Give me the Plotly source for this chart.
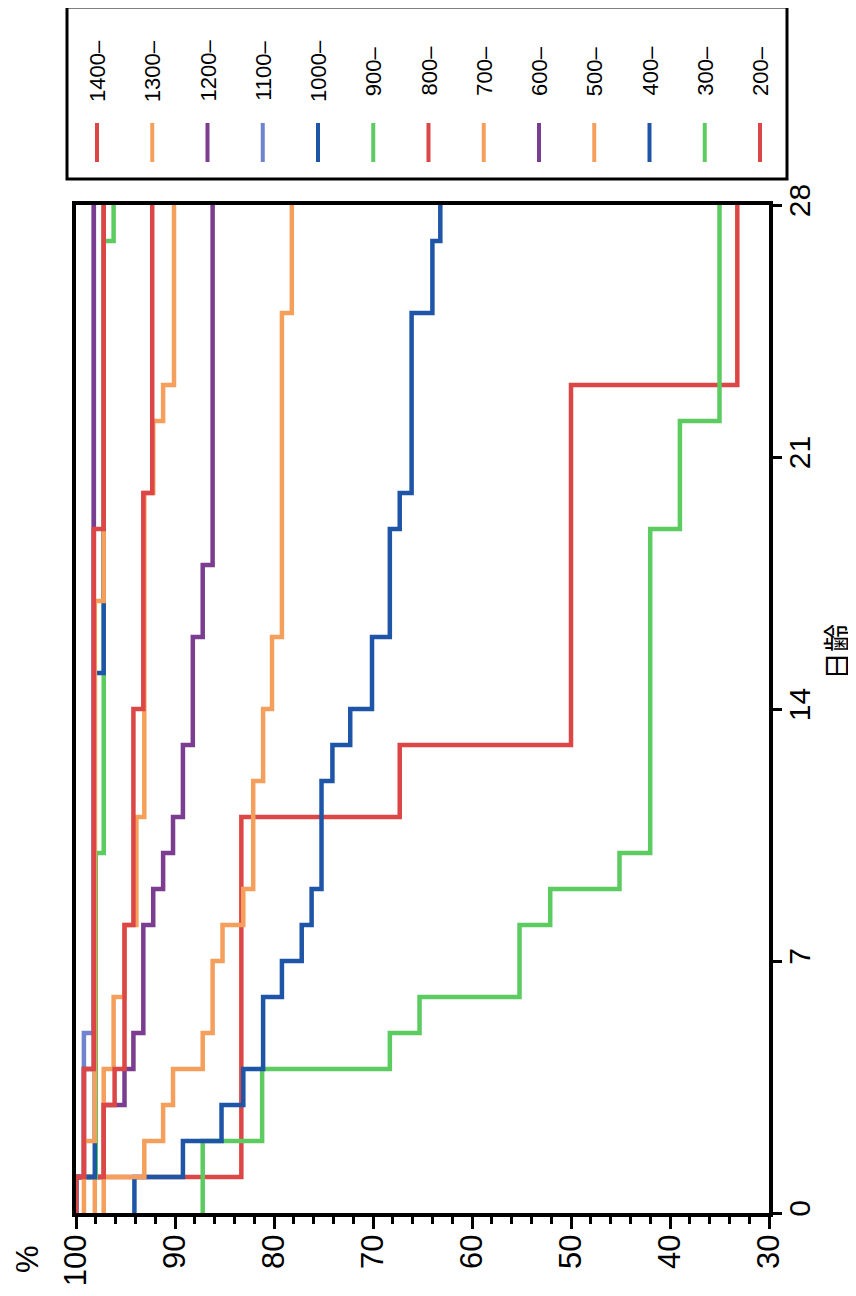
import plotly.graph_objects as go

# ---------------- data (step start day, survival %) ----------------
days_200 = [0, 1, 11, 13, 23]
pct_200 = [100, 83.3, 67.3, 50.0, 33.2]

days_300 = [0, 2, 4, 5, 6, 8, 9, 10, 19, 22]
pct_300 = [87.2, 81.2, 68.3, 65.3, 55.2, 52.1, 45.1, 42.0, 39.0, 35.0]

days_400 = [0, 1, 2, 3, 4, 6, 7, 8, 9, 12, 13, 14, 16, 19, 20, 25, 27]
pct_400 = [94.1, 89.2, 85.3, 83.1, 81.1, 79.2, 77.2, 76.2, 75.2, 74.1, 72.3, 70.1, 68.3, 67.3, 66.1, 64.0, 63.2]

days_500 = [0, 1, 2, 3, 4, 5, 7, 8, 9, 12, 14, 16, 25]
pct_500 = [98.1, 93.1, 91.2, 90.2, 87.2, 86.2, 85.2, 83.1, 82.1, 81.1, 80.2, 79.2, 78.2]

days_600 = [0, 1, 3, 4, 5, 8, 9, 10, 11, 13, 16, 18]
pct_600 = [100, 97.2, 95.1, 94.2, 93.2, 92.2, 91.2, 90.2, 89.2, 88.2, 87.2, 86.2]

days_700 = [0, 4, 6, 8, 11, 20, 22, 23]
pct_700 = [97.2, 96.2, 95.1, 93.9, 93.1, 92.2, 91.2, 90.1]

days_800 = [0, 1, 3, 4, 8, 14, 20]
pct_800 = [100, 97.2, 96.1, 95.1, 94.2, 93.2, 92.3]

days_900 = [0, 1, 10, 27]
pct_900 = [100, 98.0, 97.2, 96.2]

days_1000 = [0, 1, 15]
pct_1000 = [100, 98.1, 97.2]

days_1100 = [0, 1, 5]
pct_1100 = [100, 99.2, 98.2]

days_1200 = [0, 1, 4]
pct_1200 = [100, 99.2, 98.2]

days_1300 = [0, 2, 17]
pct_1300 = [99.2, 98.1, 97.2]

days_1400 = [0, 1, 4, 19]
pct_1400 = [100, 99.2, 98.2, 97.2]

END_DAY = 28
pct_ticks = [100, 90, 80, 70, 60, 50, 40, 30]
day_ticks = [0, 7, 14, 21, 28]

group_labels = ["200–", "300–", "400–", "500–", "600–", "700–", "800–",
                "900–", "1000–", "1100–", "1200–", "1300–", "1400–"]

RED = "#dd4646"
ORANGE = "#f4a05c"
PURPLE = "#7a3d90"
LBLUE = "#6f83cf"
BLUE = "#1f55a6"
GREEN = "#5ccb60"
group_colors = [RED, GREEN, BLUE, ORANGE, PURPLE, ORANGE, RED,
                GREEN, BLUE, LBLUE, PURPLE, ORANGE, RED]

series_days = [days_200, days_300, days_400, days_500, days_600, days_700, days_800,
               days_900, days_1000, days_1100, days_1200, days_1300, days_1400]
series_pct = [pct_200, pct_300, pct_400, pct_500, pct_600, pct_700, pct_800,
              pct_900, pct_1000, pct_1100, pct_1200, pct_1300, pct_1400]

# ---------------- geometry helpers (layout only) ----------------
OFF = 8                      # page body margin in the browser
W, H = 856 - OFF, 1296 - OFF
L, R, T, B = 76 - OFF, 87, 205 - OFF, 83
PW, PH = W - L - R, H - T - B


def px_x(x):
    return (x - OFF - L) / PW


def px_y(y):
    return (H - B - (y - OFF)) / PH


FONT = "Liberation Sans, Arial, sans-serif"

fig = go.Figure()
for name, d, p, c in zip(group_labels, series_days, series_pct, group_colors):
    fig.add_trace(go.Scatter(
        x=p + [p[-1]], y=d + [END_DAY], mode="lines", name=name,
        line=dict(color=c, width=4.5, shape="vh"), showlegend=False,
        hoverinfo="skip"))

fig.update_layout(
    width=W, height=H,
    margin=dict(l=L, r=R, t=T, b=B, autoexpand=False),
    paper_bgcolor="white", plot_bgcolor="white",
    font=dict(family=FONT, color="black"),
    showlegend=False,
)

fig.update_xaxes(
    range=[100, 30], tickmode="array", tickvals=pct_ticks, automargin=False,
    ticks="outside", ticklen=12, tickwidth=3, tickcolor="black",
    tickangle=-90, tickfont=dict(size=31, family=FONT, color="black"),
    ticklabelstandoff=-7,
    showline=True, linewidth=4, linecolor="black", mirror=True,
    showgrid=False, zeroline=False, layer="below traces",
    minor=dict(ticks="outside", tick0=30, dtick=2, ticklen=7, tickwidth=2.5,
               tickcolor="black", showgrid=False),
)
fig.update_yaxes(
    range=[0, END_DAY], side="right", tickmode="array", tickvals=day_ticks,
    automargin=False,
    ticks="outside", ticklen=9, tickwidth=3, tickcolor="black",
    tickangle=-90, tickfont=dict(size=30, family=FONT, color="black"),
    ticklabelstandoff=-8,
    showline=True, linewidth=4, linecolor="black", mirror=True,
    showgrid=False, zeroline=False, layer="below traces",
)

# axis titles (rotated)
fig.add_annotation(text="日齢", x=px_x(836), y=px_y(652), xref="paper", yref="paper",
                   xanchor="center", yanchor="middle",
                   showarrow=False, textangle=-90,
                   font=dict(size=28, family="Noto Sans CJK JP", color="black"))
fig.add_annotation(text="%", x=px_x(27), y=px_y(1259), xref="paper", yref="paper",
                   xanchor="center", yanchor="middle",
                   showarrow=False, textangle=-90,
                   font=dict(size=31, family=FONT, color="black"))

# legend box with rotated labels
fig.add_shape(type="rect", xref="paper", yref="paper",
              x0=px_x(67), x1=px_x(787), y0=px_y(179), y1=px_y(7),
              line=dict(color="black", width=3), fillcolor="rgba(0,0,0,0)")
legend_order = list(range(len(group_labels)))[::-1]  # 1400 first
for i, k in enumerate(legend_order):
    cx = 97 + 55.25 * i
    fig.add_annotation(text=group_labels[k], x=px_x(cx), y=px_y(71),
                       xref="paper", yref="paper", xanchor="center", yanchor="middle",
                       showarrow=False, textangle=-90,
                       font=dict(size=22, family=FONT, color="black"))
    fig.add_shape(type="line", xref="paper", yref="paper",
                  x0=px_x(cx), x1=px_x(cx), y0=px_y(162), y1=px_y(123),
                  line=dict(color=group_colors[k], width=4))

fig.write_html("out.html")
